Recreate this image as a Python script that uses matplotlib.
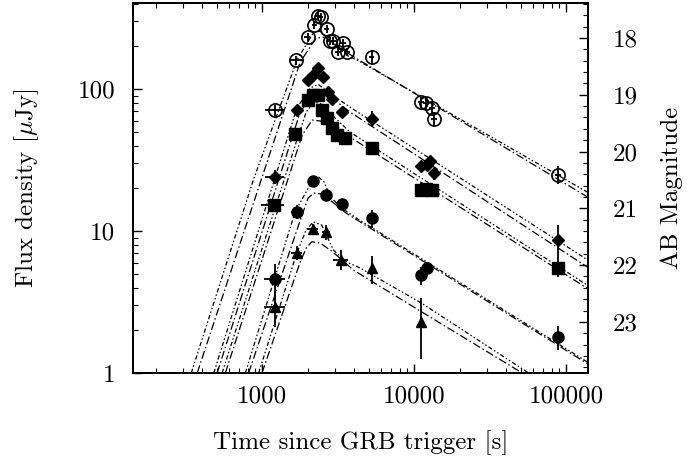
import numpy as np
import matplotlib
matplotlib.use("Agg")
import matplotlib.pyplot as plt
from matplotlib.ticker import FixedLocator, FixedFormatter, LogLocator, NullFormatter

plt.rcParams["font.family"] = ["cmr10", "DejaVu Serif"]
plt.rcParams["mathtext.fontset"] = "cm"
plt.rcParams["axes.unicode_minus"] = False

# observed points: time since trigger [s], flux density [uJy], errors
t_open = [1217, 1671, 1983, 2203, 2328, 2420, 2655, 2793, 2935, 3163, 3413, 3625,
          5236, 11040, 11890, 13150, 13480, 88700]
f_open = [71, 160, 231, 282, 327, 322, 267, 219, 219, 183, 210, 183,
          167, 81, 80, 74, 62, 25]
fe_open = [6, 12, 16, 18, 22, 22, 18, 15, 15, 12, 14, 12, 20, 7, 6, 6, 7, 3.7]
te_open = [180, 170, 90, 95, 100, 100, 110, 120, 125, 135, 145, 155,
           230, 480, 520, 570, 580, 3900]

t_dia = [1217, 1688, 2012, 2167, 2337, 2522, 2722, 2864, 3333, 5236,
         11040, 12100, 12700, 13480, 87700]
f_dia = [24, 71, 116, 125, 140, 122, 96, 85, 69, 62, 28.8, 29, 31, 25.5, 8.6]
fe_dia = [2.7, 4, 6, 6, 7, 6, 6, 5, 4, 8, 2.5, 2.5, 3, 2.5, 2.5]
te_dia = [180, 110, 0, 0, 0, 0, 0, 0, 0, 0, 0, 0, 0, 0, 0]

t_sq = [1186, 1650, 2012, 2167, 2337, 2460, 2660, 2890, 3120, 3500, 5236,
        11140, 11890, 12970, 87700]
f_sq = [15.2, 48, 83.7, 90.7, 90.7, 71, 63, 53, 47.5, 45.2, 38.2,
        19.4, 19.8, 19.4, 5.46]
fe_sq = [1.2, 3, 5, 5, 5, 4, 4, 3, 3, 3, 2.5, 1.5, 1.5, 1.5, 0.7]
te_sq = [200, 100, 0, 0, 0, 0, 0, 0, 0, 0, 0, 0, 0, 0, 0]

t_circ = [1217, 1688, 2147, 2631, 3333, 5236, 11140, 12130, 88700]
f_circ = [4.59, 13.7, 22.5, 17.9, 15.4, 12.3, 4.9, 5.46, 1.8]
fe_circ = [1.3, 1.5, 1.2, 1.5, 0.8, 1.8, 0.7, 0.6, 0.35]
te_circ = [185, 150, 0, 0, 0, 0, 0, 0, 0]

t_tri = [1217, 1688, 2147, 2631, 3290, 5236, 11140]
f_tri = [2.9, 7.03, 10.4, 9.9, 6.3, 5.46, 2.3]
fe_tri = [0.8, 0.8, 0.8, 1.2, 1.0, 1.2, 1.05]
te_tri = [185, 145, 170, 150, 370, 0, 0]

# model curves (two models per band)
mt_open_a = [340.8, 873, 1690, 2159, 2400, 2793, 3589, 4395, 140000]
mf_open_a = [1, 22.9, 160, 248, 256, 221, 173, 156, 18.6]
mt_open_b = [373, 1775, 2259, 2588, 3245, 4131, 140000]
mf_open_b = [1, 155, 229, 232, 194, 165, 17.2]

mt_dia_a = [479.6, 1688, 2066, 2330, 2710, 3776, 140000]
mf_dia_a = [1, 73.5, 101.6, 108, 95.3, 74.6, 6.2]
mt_dia_b = [504.7, 1775, 2193, 2472, 2876, 3776, 140000]
mf_dia_b = [1, 68.9, 95.3, 98.4, 86.5, 68.9, 5.5]

mt_sq_a = [544, 1688, 1944, 2193, 2472, 2876, 3776, 140000]
mf_sq_a = [1, 43.7, 68.9, 81, 78.4, 65.6, 49.8, 4.1]
mt_sq_b = [571.6, 1829, 2128, 2400, 2876, 3776, 140000]
mf_sq_b = [1, 47.4, 60.5, 59.6, 53.1, 45.9, 3.9]

mt_circ_a = [773.5, 1645, 2128, 2330, 2552, 2793, 3332, 4178, 140000]
mf_circ_a = [1, 13.7, 22.5, 24.2, 22.1, 17.5, 14.5, 12.3, 1.18]
mt_circ_b = [813, 1775, 2002, 2193, 2472, 2963, 3589, 140000]
mf_circ_b = [1, 11.9, 17.1, 18.5, 18.2, 15.7, 13.3, 1.15]

mt_tri_a = [945.6, 1688, 1944, 2167, 2461, 2935, 3589, 4395, 11140, 140000]
mf_tri_a = [1, 7.03, 10.2, 11.6, 11.0, 7.35, 6.05, 5.49, 3.11, 0.53]
mt_tri_b = [995, 1775, 1944, 2118, 2400, 2793, 3165, 3973, 11140, 140000]
mf_tri_b = [1, 6.05, 7.59, 8.41, 8.23, 7.35, 6.59, 5.31, 2.70, 0.52]

x_ticks = [1000, 10000, 100000]
x_labels = ["1000", "10000", "100000"]
y_ticks = [1, 10, 100]
y_labels = ["1", "10", "100"]
mag_ticks = [18, 19, 20, 21, 22, 23]

FS = 18

fig = plt.figure(figsize=(6.94, 4.61), dpi=100)
ax = fig.add_axes([0.1916, 0.1909, 0.6558, 0.8026])

dash_a = (0, (3.5, 1.8, 1.2, 1.8, 1.2, 1.8))
dash_b = (0, (6.5, 2.2, 1.2, 2.2))
models = [
    (mt_open_a, mf_open_a, mt_open_b, mf_open_b),
    (mt_dia_a, mf_dia_a, mt_dia_b, mf_dia_b),
    (mt_sq_a, mf_sq_a, mt_sq_b, mf_sq_b),
    (mt_circ_a, mf_circ_a, mt_circ_b, mf_circ_b),
    (mt_tri_a, mf_tri_a, mt_tri_b, mf_tri_b),
]
for ta, fa, tb, fb in models:
    ax.plot(ta, fa, color="black", lw=0.9, linestyle=dash_a, zorder=2)
    ax.plot(tb, fb, color="black", lw=0.9, linestyle=dash_b, zorder=2)

err_kw = dict(ecolor="black", elinewidth=1.3, capsize=0, linestyle="none", zorder=3)
ax.errorbar(t_open, f_open, yerr=fe_open, xerr=te_open, marker="o", ms=9.5,
            mfc="none", mec="black", mew=1.2, **err_kw)
ax.errorbar(t_dia, f_dia, yerr=fe_dia, xerr=te_dia, marker="D", ms=6.5,
            mfc="black", mec="black", **err_kw)
ax.errorbar(t_sq, f_sq, yerr=fe_sq, xerr=te_sq, marker="s", ms=8.5,
            mfc="black", mec="black", **err_kw)
ax.errorbar(t_circ, f_circ, yerr=fe_circ, xerr=te_circ, marker="o", ms=8,
            mfc="black", mec="black", **err_kw)
ax.errorbar(t_tri, f_tri, yerr=fe_tri, xerr=te_tri, marker="^", ms=7.5,
            mfc="black", mec="black", **err_kw)

ax.set_xscale("log")
ax.set_yscale("log")
ax.set_xlim(141, 139000)
ax.set_ylim(1, 404)

ax.xaxis.set_major_locator(FixedLocator(x_ticks))
ax.xaxis.set_major_formatter(FixedFormatter(x_labels))
ax.xaxis.set_minor_locator(LogLocator(base=10, subs=np.arange(2, 10)))
ax.xaxis.set_minor_formatter(NullFormatter())
ax.yaxis.set_major_locator(FixedLocator(y_ticks))
ax.yaxis.set_major_formatter(FixedFormatter(y_labels))
ax.yaxis.set_minor_locator(LogLocator(base=10, subs=np.arange(2, 10)))
ax.yaxis.set_minor_formatter(NullFormatter())

for s in ax.spines.values():
    s.set_linewidth(1.4)

ax.set_xlabel("Time since GRB trigger [s]", fontsize=FS, labelpad=16)
ax.set_ylabel(r"Flux density [$\mu$Jy]", fontsize=FS, labelpad=26)

# AB magnitude axis on the right
ax2 = ax.twinx()
ax2.set_yscale("log")
ax2.set_ylim(ax.get_ylim())
mag_flux = [10 ** ((23.9 - m) / 2.5) for m in mag_ticks]
minor_mags = [m / 5 for m in range(87, 120) if m % 5 != 0]
ax2.yaxis.set_major_locator(FixedLocator(mag_flux))
ax2.yaxis.set_major_formatter(FixedFormatter([str(m) for m in mag_ticks]))
ax2.yaxis.set_minor_locator(FixedLocator([10 ** ((23.9 - m) / 2.5) for m in minor_mags]))
ax2.yaxis.set_minor_formatter(NullFormatter())
ax2.set_ylabel("AB Magnitude", fontsize=FS, labelpad=16)
for s in ax2.spines.values():
    s.set_linewidth(1.4)

ax.tick_params(which="both", direction="in", top=True, right=False, labelsize=FS)
ax.tick_params(which="major", length=6.5, width=1.0)
ax.tick_params(which="minor", length=3.5, width=0.8)
ax.tick_params(axis="x", which="major", pad=9)
ax.tick_params(axis="y", which="major", pad=13)
ax2.tick_params(which="both", direction="in", left=False, right=True, labelsize=FS)
ax2.tick_params(which="major", length=6.5, width=1.0, pad=18)
ax2.tick_params(which="minor", length=3.5, width=0.8)

fig.savefig("out.png", dpi=100)
